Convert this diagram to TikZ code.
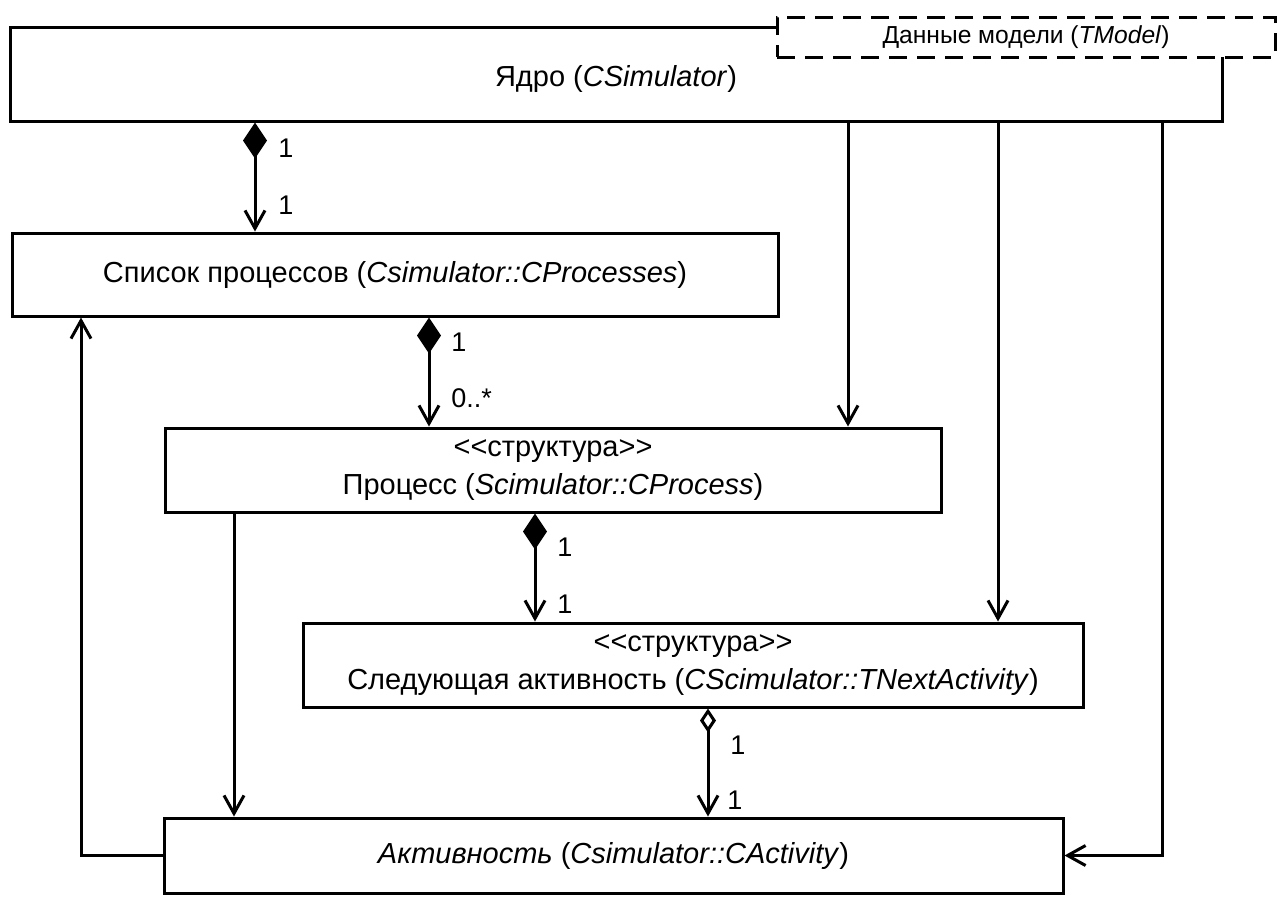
\documentclass[tikz,border=0pt]{standalone}
\usepackage{fontspec}
\setmainfont{Liberation Sans}
\usetikzlibrary{arrows.meta}
\begin{document}
\begin{tikzpicture}[x=0.5pt,y=-0.5pt,
  box/.style={draw, line width=1.5pt, inner sep=0pt, align=center, font=\fontsize{14.5}{19}\selectfont},
  modelbox/.style={draw, fill=white, line width=1.5pt, dash pattern=on 9pt off 5pt, inner sep=0pt, font=\fontsize{12.3}{14}\selectfont},
  lbl/.style={font=\fontsize{13.5}{16}\selectfont, inner sep=0pt, anchor=west},
  conn/.style={line width=1.5pt},
  arr/.style={-{Straight Barb[length=9pt,width=10pt]}},
  comp/.style={{Diamond[length=18pt,width=12pt]}-{Straight Barb[length=9pt,width=10pt]}},
  aggr/.style={{Diamond[open,length=12pt,width=8pt]}-{Straight Barb[length=9pt,width=10pt]}},
]
\useasboundingbox (0,0) rectangle (1285,896);
% boxes
\node[box, minimum width=606pt, minimum height=47pt, text height=15.6pt, text depth=3.1pt] (core) at (616,74) {Ядро (\textit{CSimulator})};
\node[modelbox, minimum width=249pt, minimum height=20pt] (model) at (1026,37) {Данные модели (\textit{TModel})};
\node[box, minimum width=383pt, minimum height=41.5pt] (list) at (395,274.5) {Список процессов (\textit{Csimulator::CProcesses})};
\node[box, minimum width=388pt, minimum height=42pt] (proc) at (553,470) {<\kern0pt<структура>\kern0pt>\\Процесс (\textit{Scimulator::CProcess})};
\node[box, minimum width=390pt, minimum height=42pt] (next) at (693,665) {<\kern0pt<структура>\kern0pt>\\Следующая активность (\textit{CScimulator::TNextActivity})};
\node[box, minimum width=449.5pt, minimum height=37.5pt] (act) at (613.5,855.5) {\textit{Активность} (\textit{Csimulator::CActivity})};
% columns
\coordinate (c1) at (255,0);
\coordinate (c2) at (429,0);
\coordinate (c3) at (535,0);
\coordinate (c4) at (708,0);
\coordinate (c5) at (848,0);
\coordinate (c6) at (998,0);
\coordinate (c7) at (1162,0);
\coordinate (c8) at (234,0);
\coordinate (c9) at (81,0);
% connectors
\draw[conn,comp] (core.south -| c1) -- (list.north -| c1);
\draw[conn,comp] (list.south -| c2) -- (proc.north -| c2);
\draw[conn,comp] (proc.south -| c3) -- (next.north -| c3);
\draw[conn,aggr] (next.south -| c4) -- (act.north -| c4);
\draw[conn,arr] (core.south -| c5) -- (proc.north -| c5);
\draw[conn,arr] (core.south -| c6) -- (next.north -| c6);
\draw[conn,arr] (core.south -| c7) |- (act.east);
\draw[conn,arr] (proc.south -| c8) -- (act.north -| c8);
\draw[conn,arr] (act.west) -| (list.south -| c9);
% multiplicities
\node[lbl] (l1a) at (278,148) {1};
\node[lbl] (l1b) at (278,205) {1};
\node[lbl] (l2a) at (451,342) {1};
\node[lbl] (l2b) at (451,398) {0..*};
\node[lbl] (l3a) at (557,547) {1};
\node[lbl] (l3b) at (557,604) {1};
\node[lbl] (l4a) at (730,745) {1};
\node[lbl] (l4b) at (727,800) {1};
\end{tikzpicture}
\end{document}
